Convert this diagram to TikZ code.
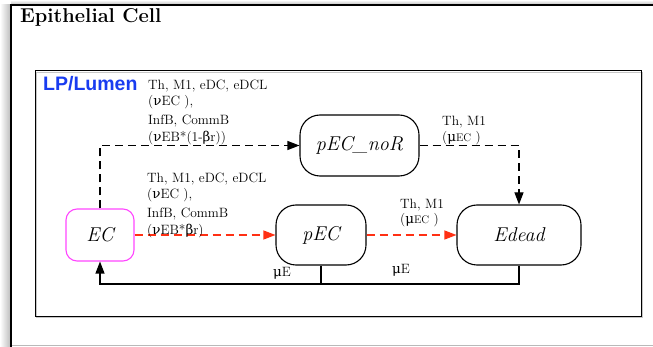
\documentclass[tikz,border=0pt]{standalone}
\usepackage{fontspec}
\newfontfamily\lpfont{Liberation Sans}
\newfontfamily\grk{DejaVu Serif}
\usetikzlibrary{arrows.meta}
\definecolor{ecmag}{RGB}{255,70,255}
\definecolor{arred}{RGB}{255,48,20}
\definecolor{lpblue}{RGB}{25,60,240}
\newcommand{\gnu}{{\grk ν}}
\newcommand{\gbeta}{{\grk β}}
\newcommand{\gmu}{{\grk μ}}
\tikzset{
  stadium/.style={draw, line width=1.1pt, rounded corners=20pt, inner sep=0pt,
    minimum height=60pt, font=\fontsize{20}{22}\selectfont\itshape},
  ecbox/.style={draw=ecmag, line width=1.1pt, rounded corners=11pt, inner sep=0pt,
    minimum width=68pt, minimum height=52pt, font=\fontsize{20}{22}\selectfont\itshape},
  tip/.style={-{Triangle[length=12pt,width=9pt]}},
  blackdash/.style={tip, line width=1.1pt, dash pattern=on 8pt off 5pt},
  reddash/.style={tip, arred, line width=1.1pt, dash pattern=on 8pt off 5pt},
  flow/.style={line width=1.1pt},
  lab/.style={anchor=north west, inner sep=0pt, align=left,
    font=\fontsize{13.5}{16.5}\selectfont},
  mulab/.style={inner sep=0pt, font=\fontsize{13.5}{15}\selectfont}
}
\begin{document}
\begin{tikzpicture}[x=1pt,y=-1pt]
\useasboundingbox (0,0) rectangle (653,347);
% outer frame with shadow
\shade[left color=white, right color=gray!55] (0,5) rectangle (11,347);
\shade[top color=white, bottom color=gray!55] (11,0) rectangle (653,5);
\draw[gray!55, line width=1.2pt] (11,345.5) -- (653,345.5);
\draw[line width=1.5pt] (11,347) -- (11,5) -- (653,5);
\node[anchor=base west, inner sep=0pt, font=\fontsize{20}{22}\selectfont\bfseries] (title) at (20,23) {Epithelial Cell};
% inner box
\draw[gray!45, line width=1.1pt] (36.5,72.5) rectangle (642.3,317.3);
\draw[line width=1pt] (35,71) rectangle (641,316);
\node[anchor=base west, inner sep=0pt, text=lpblue, font=\lpfont\fontsize{19.5}{21}\selectfont\bfseries] (lp) at (43,91) {LP/Lumen};
% states
\node[ecbox] (EC) at (100,235) {EC};
\node[stadium, minimum width=90pt] (pEC) at (321,235) {pEC};
\node[stadium, minimum width=124pt] (Edead) at (519,235) {Edead};
\node[stadium, minimum width=119pt, minimum height=61pt] (pECnoR) at (359.5,145.5) {pEC\_noR};
\coordinate (bot) at (0,284);
% transitions
\draw[blackdash] (EC.north) |- (pECnoR.west);
\draw[blackdash] (pECnoR.east) -| (Edead.north);
\draw[reddash] (EC.east) -- (pEC.west);
\draw[reddash] (pEC.east) -- (Edead.west);
\draw[flow, tip] (pEC.south) -- (pEC.south |- bot) -| (EC.south);
\draw[flow] (Edead.south) |- (pEC.south |- bot);
% labels
\node[lab] (l1) at (148,79.5) {Th, M\oldstylenums{1}, eDC, eDCL\\(\gnu EC ),\\[2.5pt]InfB, CommB\\(\gnu EB*(\oldstylenums{1}-\gbeta r))};
\node[lab] (l2) at (147,172.5) {Th, M\oldstylenums{1}, eDC, eDCL\\(\gnu EC ),\\[2.5pt]InfB, CommB\\(\gnu EB*\gbeta r)};
\node[lab] (l3) at (442,115.5) {Th, M\oldstylenums{1}\\(\gmu{\fontsize{11}{12}\selectfont EC} )};
\node[lab, font=\fontsize{13.5}{15}\selectfont] (l4) at (400,198.5) {Th, M\oldstylenums{1}\\(\gmu{\fontsize{11}{12}\selectfont EC} )};
\node[mulab] (m1) at (282,273) {\gmu E};
\node[mulab] (m2) at (401,270) {\gmu E};
\end{tikzpicture}
\end{document}
